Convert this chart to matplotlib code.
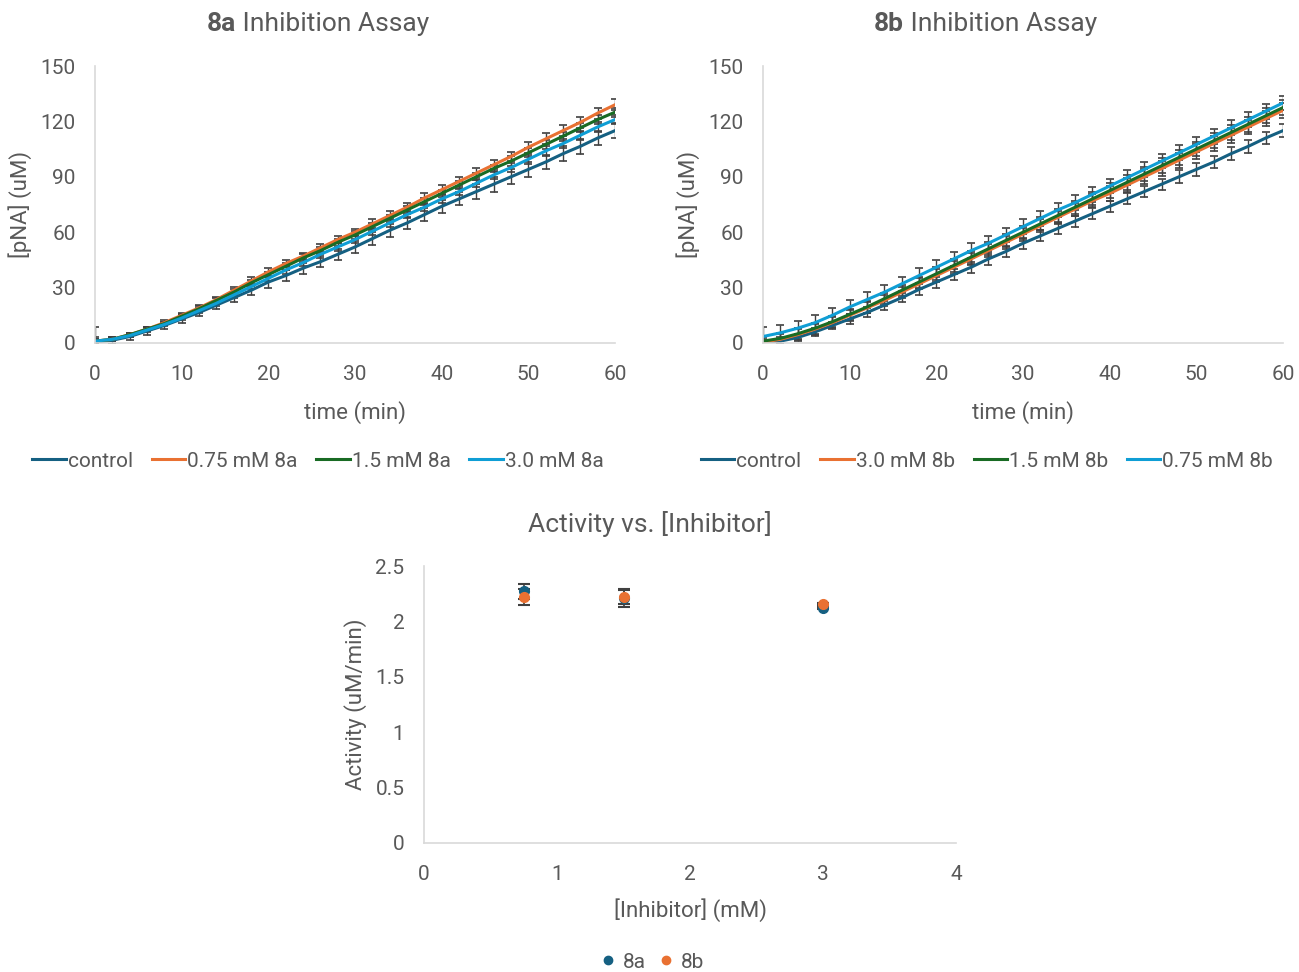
# Inhibition assay figure: two kinetic traces + activity vs inhibitor
import matplotlib
matplotlib.use("Agg")
import matplotlib.pyplot as plt
import numpy as np
from matplotlib.lines import Line2D

plt.rcParams['font.family'] = ['Roboto', 'DejaVu Sans']
fs = 15
tfs = 19
gray_txt = '#595959'
spine_c = '#D9D9D9'
err_c = '#404040'

# colours (Office theme)
c_dark = '#156082'
c_orange = '#E97132'
c_green = '#196B24'
c_cyan = '#0F9ED5'

# time points (min)
time = list(range(0, 61, 2))

# 8a traces (uM pNA)
a_control = [0.5, 1.5, 3.5, 6.5, 9.5, 13, 16.5, 20.5, 24.5, 28.5, 33, 36.5, 40.5, 44, 48, 52,
             56.5, 61, 65, 69.5, 74, 78, 82, 86, 90, 94, 98, 102.5, 106.5, 111, 115]
a_075 = [1, 2, 4.5, 7.5, 11, 15, 19, 23.5, 28.5, 33.5, 38.5, 43, 47, 51.5, 56, 60,
         64.5, 69, 73.5, 78.5, 83, 87.5, 92, 96.5, 101, 106, 110.5, 115, 119.5, 124.5, 129]
a_15 = [1, 2, 4.5, 7.5, 10.5, 14.5, 18.5, 23, 27.5, 32.5, 37, 41.5, 46, 50, 54.5, 58.5,
        63, 67.5, 72, 76.5, 81, 85.5, 90, 94.5, 98.5, 103, 107.5, 112, 116.5, 121, 125]
a_30 = [1, 2, 4, 7, 10, 13.5, 17.5, 21.5, 26, 30.5, 35, 39.5, 43.5, 48, 52, 56,
        60.5, 65, 69.5, 73.5, 78, 82, 86.5, 91, 95, 99.5, 104, 108, 112.5, 117, 121]
a_control_err = [8, 2, 2, 2, 2, 2, 2, 2, 2.5, 2.5, 3, 3, 3, 3, 3, 3, 3.5, 3.5, 3.5, 3.5,
                 3.5, 3.5, 4, 4, 4, 4, 4, 4, 4, 4, 4]
a_075_err = [2, 1, 1, 1, 1.5, 1.5, 1.5, 1.5, 2, 2, 2, 2, 2, 2, 2, 2, 2.5, 2.5, 2.5, 2.5,
             2.5, 2.5, 2.5, 2.5, 2.5, 3, 3, 3, 3, 3, 3]
a_15_err = [1, 1, 1, 1, 1, 1, 1.5, 1.5, 1.5, 1.5, 1.5, 2, 2, 2, 2, 2, 2, 2, 2, 2, 2,
            2, 2, 2, 2.5, 2.5, 2.5, 2.5, 2.5, 2.5, 2.5]
a_30_err = [1, 1, 1, 1, 1, 1, 1.5, 1.5, 1.5, 1.5, 1.5, 2, 2, 2, 2, 2, 2, 2, 2, 2, 2,
            2, 2, 2, 2.5, 2.5, 2.5, 2.5, 2.5, 2.5, 2.5]

# 8b traces (uM pNA)
b_control = [0, 1, 3, 6, 9.5, 13, 16.5, 20.5, 24.5, 29, 33, 37, 41, 45.5, 49.5, 54,
             58, 62, 66, 70, 74, 78, 82, 86, 90, 94, 98, 102.5, 106.5, 111, 115]
b_30 = [0.5, 2, 4.5, 7.5, 11, 15, 19, 23, 27.5, 32, 36.5, 41, 45.5, 50, 54.5, 59,
        63.5, 68, 72.5, 77, 81, 85.5, 90, 94.5, 99, 103.5, 108, 112.5, 117, 121.5, 126]
b_15 = [1, 2.5, 5, 8, 11.5, 15.5, 19.5, 24, 28.5, 33, 37.5, 42, 46.5, 51, 55.5, 60,
        64.5, 69, 73.5, 78, 82.5, 87, 91.5, 96, 100.5, 105, 109.5, 114, 118.5, 123, 127.5]
b_075 = [3.5, 5.5, 8, 11, 15, 19.5, 23.5, 27.5, 32, 36.5, 41, 45.5, 50, 54, 58.5, 63,
         67.5, 72, 76, 80.5, 85, 89.5, 94, 98.5, 103, 107.5, 112, 116.5, 121, 125.5, 130]
b_control_err = [2, 2, 2, 2, 2, 2.5, 2.5, 2.5, 2.5, 3, 3, 3, 3, 3, 3, 3, 3, 3, 3, 3,
                 3, 3, 3, 3, 3.5, 3.5, 3.5, 3.5, 3.5, 3.5, 3.5]
b_30_err = [3, 3, 3, 3, 3, 3, 3, 3, 3, 3, 3.5, 3.5, 3.5, 3.5, 3.5, 3.5, 3.5, 3.5, 3.5,
            3.5, 4, 4, 4, 4, 4, 4, 4, 4, 4, 4, 4]
b_15_err = [3, 3, 3, 3, 3, 3, 3, 3, 3, 3, 3.5, 3.5, 3.5, 3.5, 3.5, 3.5, 3.5, 3.5, 3.5,
            3.5, 4, 4, 4, 4, 4, 4, 4, 4, 4, 4, 4]
b_075_err = [5, 4, 4, 4, 4, 4, 4, 4, 4, 4, 4, 4, 4, 4, 4, 4, 4, 4, 4, 4,
             4, 4, 4, 4, 4, 4, 4, 4, 4, 4, 4]

# activity vs inhibitor
inhib = [0.75, 1.5, 3.0]
act_8a = [2.27, 2.21, 2.12]
act_8a_err = [0.07, 0.08, 0.01]
act_8b = [2.22, 2.22, 2.16]
act_8b_err = [0.07, 0.06, 0.01]

W, H = 1299, 972
fig = plt.figure(figsize=(W / 100, H / 100), dpi=100)


def px_axes(x0, x1, y0, y1):
    return fig.add_axes([x0 / W, 1 - y1 / H, (x1 - x0) / W, (y1 - y0) / H])


def style(ax):
    for s in ['top', 'right']:
        ax.spines[s].set_visible(False)
    for s in ['left', 'bottom']:
        ax.spines[s].set_color(spine_c)
        ax.spines[s].set_linewidth(1.2)
    ax.tick_params(length=0, labelsize=fs, colors=gray_txt)
    ax.tick_params(axis='x', pad=16)
    ax.tick_params(axis='y', pad=14)


def title(x_split, y, bold, rest):
    fig.text(x_split / W, 1 - y / H, bold, ha='right', va='center', fontsize=tfs,
             fontweight='bold', color=gray_txt)
    fig.text(x_split / W, 1 - y / H, ' ' + rest, ha='left', va='center', fontsize=tfs,
             color=gray_txt)


def kinetic(ax, series):
    for (y, e, c) in series:
        ax.errorbar(time, y, yerr=e, color=c, lw=2.2, ecolor=err_c, elinewidth=1,
                    capsize=3, capthick=1.2)
    ax.set_xlim(0, 60)
    ax.set_ylim(0, 150)
    ax.set_xticks(range(0, 61, 10))
    ax.set_yticks(range(0, 151, 30))
    ax.set_xlabel('time (min)', fontsize=fs + 1, color=gray_txt, labelpad=12)
    ax.set_ylabel('[pNA] (uM)', fontsize=fs + 1, color=gray_txt, labelpad=6)
    style(ax)
    return [Line2D([], [], color=s[2], lw=2.2) for s in series]


leg_kw = dict(loc='center', ncol=4, frameon=False, fontsize=fs, labelcolor=gray_txt,
              handlelength=1.6, handletextpad=0.1, columnspacing=0.9)

ax1 = px_axes(95, 615, 66, 343)
h1 = kinetic(ax1, [(a_control, a_control_err, c_dark), (a_075, a_075_err, c_orange),
                   (a_15, a_15_err, c_green), (a_30, a_30_err, c_cyan)])
fig.legend(h1, ['control', '0.75 mM 8a', '1.5 mM 8a', '3.0 mM 8a'],
           bbox_to_anchor=(318 / W, 1 - 461 / H), **leg_kw)
title(236, 24, '8a', 'Inhibition Assay')

ax2 = px_axes(763, 1283, 66, 343)
h2 = kinetic(ax2, [(b_control, b_control_err, c_dark), (b_30, b_30_err, c_orange),
                   (b_15, b_15_err, c_green), (b_075, b_075_err, c_cyan)])
fig.legend(h2, ['control', '3.0 mM 8b', '1.5 mM 8b', '0.75 mM 8b'],
           bbox_to_anchor=(987 / W, 1 - 461 / H), **leg_kw)
title(904, 24, '8b', 'Inhibition Assay')

ax3 = px_axes(424, 956, 566, 843)
ax3.errorbar(inhib, act_8a, yerr=act_8a_err, fmt='o', color=c_dark, ms=7,
             ecolor=err_c, elinewidth=1.2, capsize=4, capthick=1.5, label='8a')
ax3.errorbar(inhib, act_8b, yerr=act_8b_err, fmt='o', color=c_orange, ms=7,
             ecolor=err_c, elinewidth=1.2, capsize=4, capthick=1.5, label='8b')
ax3.set_xlim(0, 4)
ax3.set_ylim(0, 2.5)
ax3.set_xticks([0, 1, 2, 3, 4])
ax3.set_yticks([0, 0.5, 1, 1.5, 2, 2.5])
ax3.set_yticklabels(['0', '0.5', '1', '1.5', '2', '2.5'])
ax3.set_xlabel('[Inhibitor] (mM)', fontsize=fs + 1, color=gray_txt, labelpad=10)
ax3.set_ylabel('Activity (uM/min)', fontsize=fs + 1, color=gray_txt, labelpad=6)
style(ax3)
fig.text(650 / W, 1 - 524 / H, 'Activity vs. [Inhibitor]', ha='center', va='center',
         fontsize=tfs, color=gray_txt)
mk = [Line2D([], [], marker='o', ls='', color=c, ms=6) for c in (c_dark, c_orange)]
fig.legend(mk, ['8a', '8b'], loc='center', bbox_to_anchor=(652 / W, 1 - 962 / H),
           ncol=2, frameon=False, fontsize=fs, labelcolor=gray_txt, handlelength=0.8,
           handletextpad=0.3, columnspacing=0.6)

fig.savefig('out.png', dpi=100)
